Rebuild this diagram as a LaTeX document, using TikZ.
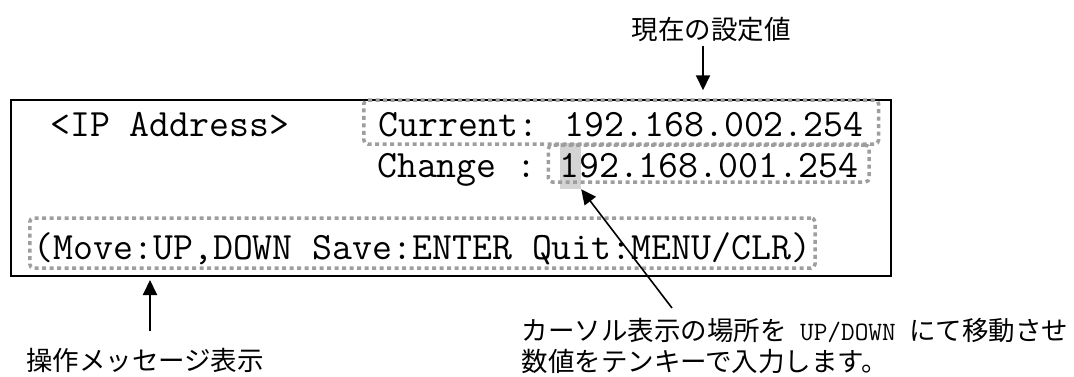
\documentclass[tikz,border=0pt]{standalone}
\usepackage{fontspec}
\usepackage{xcolor}
\usepackage{tikz}
\usetikzlibrary{positioning, arrows.meta}
\newfontfamily\jpfont{Noto Sans CJK JP}
\definecolor{DotGray}{RGB}{158,158,158}
\definecolor{CursorGray}{RGB}{212,212,212}
\tikzset{
    panelnode/.style={
        draw, line width=2pt, minimum width=880pt, minimum height=176pt
    },
    lcdtext/.style={
        font=\ttfamily\fontsize{38.7}{40}\selectfont, inner sep=0pt, anchor=base west
    },
    dotbox/.style={
        draw=DotGray, line width=3.5pt, dash pattern=on 4pt off 3.5pt, rounded corners=4pt
    },
    notetext/.style={
        font=\jpfont\fontsize{26.5}{30}\selectfont
    },
    callout/.style={
        -{Triangle[width=14pt,length=15pt]}, line width=2pt
    }
}

\begin{document}
\begin{tikzpicture}[x=1pt, y=-1pt]
    \useasboundingbox (0,0) rectangle (1074,376);

    % 1. LCD PANEL
    \node[panelnode] (panel) at (451,188) {};
    \node[fill=CursorGray, minimum width=21pt, minimum height=46pt, inner sep=0pt] (cursor) at (570.5,166) {};

    \node[lcdtext] (title) at (50,136) {<IP Address>};
    \node[lcdtext, dotbox, inner xsep=15pt, text height=36pt, text depth=8pt] (cur) at (362,136) {Current: 192.168.002.254};
    \node[lcdtext] (chglbl) at (377,177) {Change :};
    \node[lcdtext, dotbox, inner xsep=11pt, text height=32pt, text depth=5pt] (chg) at ([xshift=9.7pt]chglbl.base east) {192.168.001.254};
    \node[lcdtext, dotbox, inner xsep=4pt, text height=41pt, text depth=9pt] (msg) at (28,259) {(Move:UP,DOWN Save:ENTER Quit:MENU/CLR)};

    % 2. NOTES
    \node[notetext] (curnote) at (711,30) {現在の設定値};
    \node[notetext] (opnote) at (145,360) {操作メッセージ表示};
    \node[notetext, anchor=base west] (cursornote) at (518,340) {カーソル表示の場所を{\ttfamily\ UP/DOWN\ }にて移動させ};
    \node[notetext, anchor=base west] (cursornote2) at ([yshift=-31pt]cursornote.base west) {数値をテンキーで入力します。};

    % 3. ARROWS
    \draw[callout, shorten >=8pt] ([xshift=-8pt]curnote.south) -- ([xshift=-8pt]curnote.south |- cur.north);
    \draw[callout, shorten <=13pt, shorten >=3pt] ([xshift=5pt]opnote.north) -- ([xshift=5pt]opnote.north |- panel.south);
    \coordinate (notetail) at (672,308);
    \draw[callout, line width=1.6pt] (notetail) -- (cursor.south east);

\end{tikzpicture}
\end{document}
